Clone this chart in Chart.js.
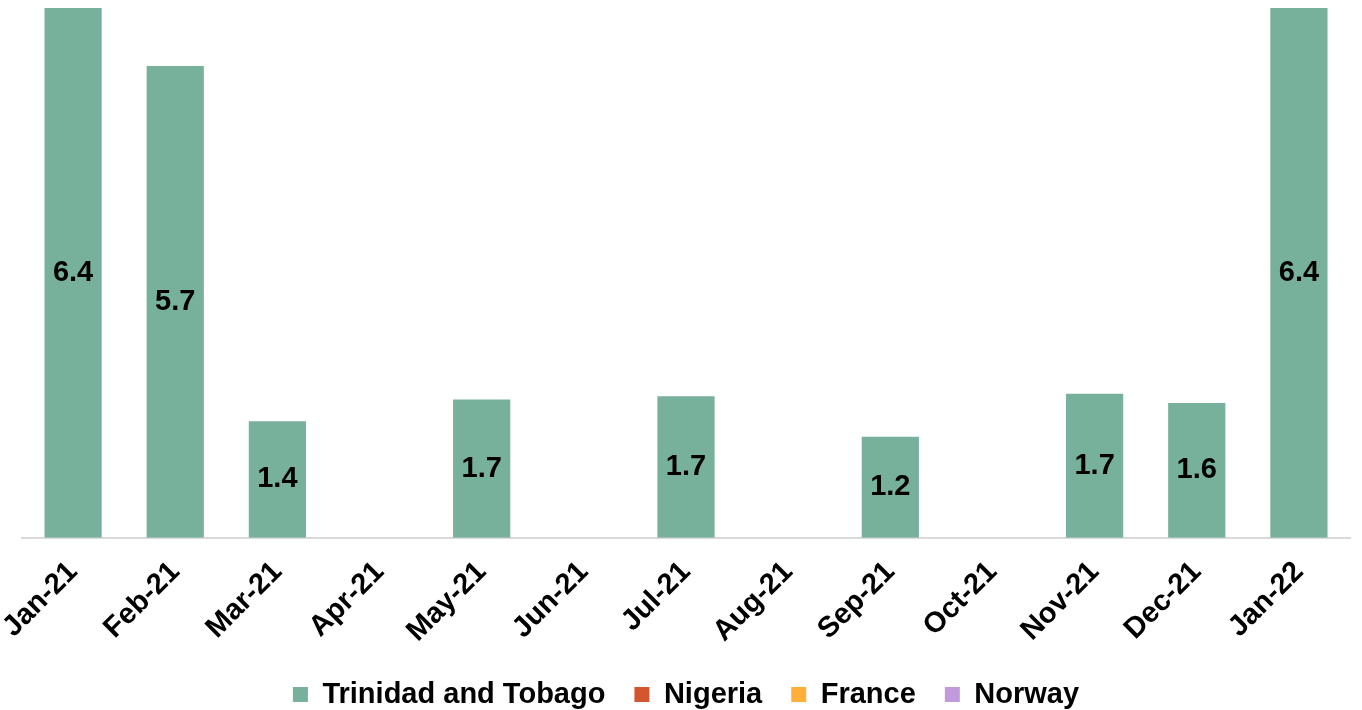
<!DOCTYPE html>
<html>
<head>
    <meta charset="UTF-8">
    <title>monthlyChart</title>
    <script src="https://cdn.jsdelivr.net/npm/chart.js"></script>
    <style>
        html, body { margin: 0; padding: 0; background: #fff; }
        #wrap { width: 1362px; height: 710px; }
    </style>
</head>
<body>
    <div id="wrap">
        <canvas id="monthChart"></canvas>
    </div>

    <script>
        var months = ['Jan-21', 'Feb-21', 'Mar-21', 'Apr-21', 'May-21', 'Jun-21', 'Jul-21',
                      'Aug-21', 'Sep-21', 'Oct-21', 'Nov-21', 'Dec-21', 'Jan-22'];
        var trinidad = [6.4, 5.7, 1.41, null, 1.67, null, 1.71, null, 1.22, null, 1.74, 1.63, 6.4];
        var nigeria = [null, null, null, null, null, null, null, null, null, null, null, null, null];
        var france = [null, null, null, null, null, null, null, null, null, null, null, null, null];
        var norway = [null, null, null, null, null, null, null, null, null, null, null, null, null];

        var FONT = '"Liberation Sans", Arial, sans-serif';

        // labels drawn in the middle of each bar (no datalabels plugin available offline)
        var barLabels = {
            id: 'barLabels',
            afterDatasetsDraw: function(chart) {
                var ctx = chart.ctx;
                var meta = chart.getDatasetMeta(0);
                ctx.save();
                ctx.font = 'bold 29px ' + FONT;
                ctx.fillStyle = '#000';
                ctx.textAlign = 'center';
                ctx.textBaseline = 'middle';
                meta.data.forEach(function(bar, i) {
                    var v = chart.data.datasets[0].data[i];
                    if (v === null) return;
                    var p = bar.getProps(['x', 'y', 'base'], true);
                    ctx.fillText(v.toFixed(1), p.x, (p.y + p.base) / 2);
                });
                ctx.restore();
            }
        };

        var ctx = document.getElementById('monthChart').getContext('2d');
        var chart = new Chart(ctx, {
            type: 'bar',
            data: {
                labels: months,
                datasets: [
                    { label: 'Trinidad and Tobago', data: trinidad, backgroundColor: '#77b19b' },
                    { label: 'Nigeria', data: nigeria, backgroundColor: '#d4562e' },
                    { label: 'France', data: france, backgroundColor: '#ffae38' },
                    { label: 'Norway', data: norway, backgroundColor: '#c19adb' }
                ]
            },
            options: {
                responsive: true,
                maintainAspectRatio: false,
                animation: false,
                layout: { padding: { top: 8, left: 22, right: 12, bottom: -9 } },
                datasets: { bar: { categoryPercentage: 1, barPercentage: 0.56 } },
                plugins: {
                    tooltip: { enabled: false },
                    legend: {
                        position: 'bottom',
                        labels: {
                            color: '#000',
                            boxWidth: 15,
                            boxHeight: 15,
                            padding: 29,
                            font: { family: FONT, size: 29, weight: 'bold' }
                        }
                    }
                },
                scales: {
                    x: {
                        stacked: true,
                        grid: { display: false },
                        border: { display: true, color: '#d9d9d9', width: 2 },
                        afterFit: function(scale) {
                            scale.height -= 7;
                            scale.paddingLeft = 0;
                            scale.paddingRight = 0;
                        },
                        ticks: {
                            color: '#000',
                            minRotation: 45,
                            maxRotation: 45,
                            padding: 9,
                            font: { family: FONT, size: 29, weight: 'bold' }
                        }
                    },
                    y: {
                        stacked: true,
                        display: false,
                        min: 0,
                        max: 6.4
                    }
                }
            },
            plugins: [barLabels]
        });
    </script>
</body>
</html>
